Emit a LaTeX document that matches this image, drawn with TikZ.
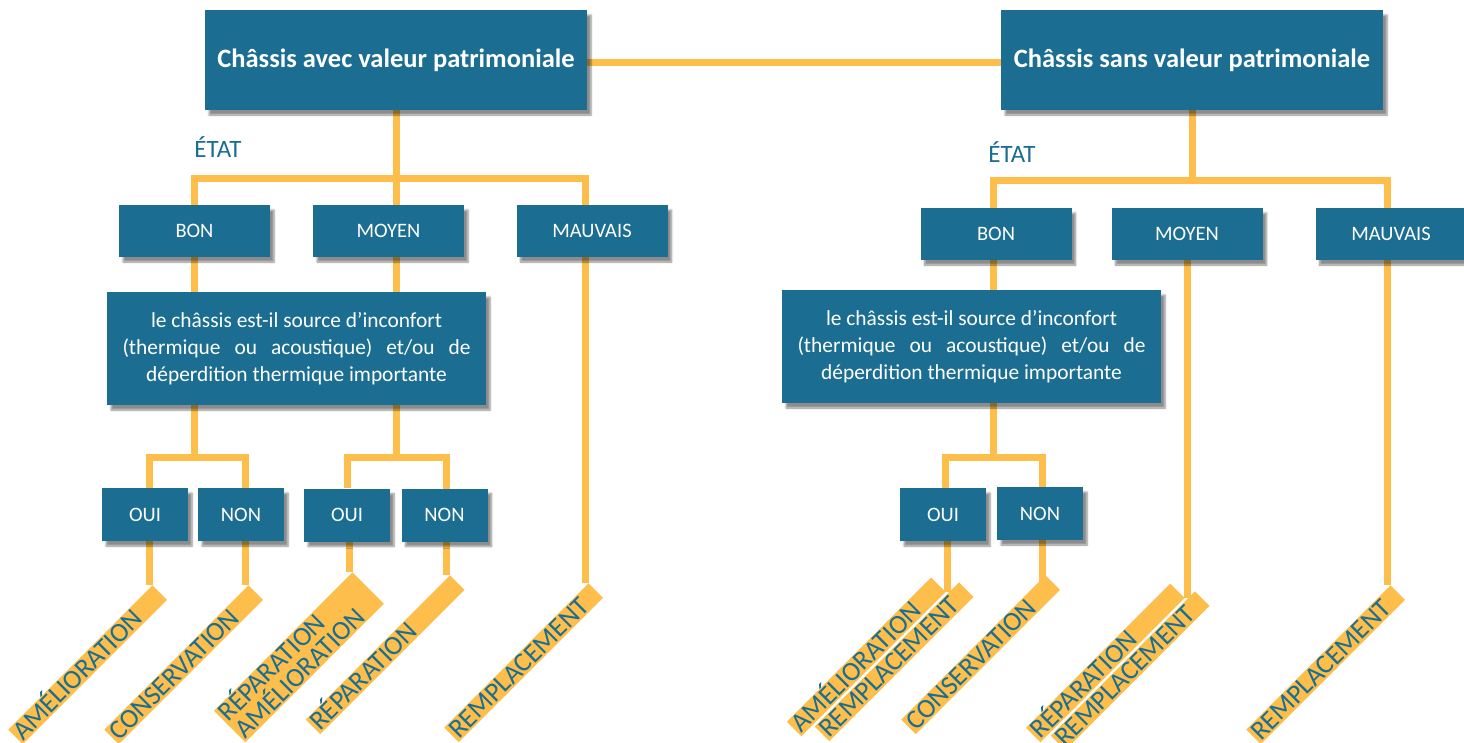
\documentclass[tikz,border=0pt]{standalone}
\usepackage{fontspec}
\setmainfont{Carlito}
\usetikzlibrary{positioning,backgrounds,shadows.blur}
\definecolor{bleu}{RGB}{27,110,145}
\definecolor{jaune}{RGB}{253,190,75}
\tikzset{
  boite/.style={fill=bleu, text=white, inner sep=0pt, minimum width=151pt, minimum height=52pt,
    font=\fontsize{20.5}{24}\selectfont,
    blur shadow={shadow xshift=4pt, shadow yshift=-5pt, shadow blur steps=6, shadow opacity=45}},
  petite/.style={boite, minimum width=86pt, minimum height=53pt},
  titre/.style={boite, minimum width=382pt, minimum height=100pt, font=\bfseries\fontsize{26.5}{30}\selectfont},
  question/.style={boite, minimum width=379pt, minimum height=113pt, align=center, font=\fontsize{21.4}{27}\selectfont},
  etat/.style={text=bleu, font=\fontsize{25}{28}\selectfont},
  bande/.style={fill=jaune, text=bleu, rotate=45, anchor=north east, inner xsep=2pt, inner ysep=1.5pt,
    text width=200pt, align=left, text height=17.5pt, text depth=0pt,
    font=\fontsize{27}{24}\selectfont},
  lien/.style={draw=jaune, line width=7pt},
}
\newcommand{\inconfort}{le châssis est-il source d’inconfort\\
  \makebox[348pt][s]{(thermique ou acoustique) et/ou de}\\
  déperdition thermique importante}

\begin{document}
\begin{tikzpicture}[x=1pt, y=-1pt]
  \useasboundingbox (0,0) rectangle (1464,742);

  % avec valeur patrimoniale
  \node[titre] (titreA) at (396,60) {Châssis avec valeur patrimoniale};
  \node[etat] (etatA) at (218,147) {ÉTAT};
  \node[boite] (bonA) at (194.5,231) {BON};
  \node[boite] (moyenA) at (388.5,231) {MOYEN};
  \node[boite] (mauvaisA) at (592,231) {MAUVAIS};
  \node[question] (questA) at (296.5,348.5) {\inconfort};
  \node[petite] (ouiA1) at (145,514.5) {OUI};
  \node[petite] (nonA1) at (241,514.5) {NON};
  \node[petite] (ouiA2) at (347,515) {OUI};
  \node[petite] (nonA2) at (444.5,515) {NON};

  % sans valeur patrimoniale
  \node[titre] (titreB) at (1192,60) {Châssis sans valeur patrimoniale};
  \node[etat] (etatB) at (1012,152) {ÉTAT};
  \node[boite] (bonB) at (996,234) {BON};
  \node[boite] (moyenB) at (1187,234) {MOYEN};
  \node[boite] (mauvaisB) at (1391,234) {MAUVAIS};
  \node[question] (questB) at (971.5,346.5) {\inconfort};
  \node[petite] (ouiB) at (943,514.5) {OUI};
  \node[petite] (nonB) at (1040,513.5) {NON};

  \begin{scope}[on background layer]
    \draw[lien] ([yshift=-2pt]titreA.center) -- ([yshift=-2pt]titreB.center);
    % arbre de gauche
    \path (titreA.south) ++(0,68) coordinate (nA);
    \draw[lien] (titreA) -- (titreA |- questA.north);
    \draw[lien] (bonA) |- (nA) -| ([xshift=-7pt]mauvaisA.center) -- ++(0,352) coordinate (fA5);
    \draw[lien] (bonA) -- ++(0,226) coordinate (nA1);
    \draw[lien] (titreA |- questA) -- (titreA |- nA1) coordinate (nA2);
    \draw[lien] ([xshift=4pt]ouiA1.center) |- (nA1) -| ([xshift=4pt]nonA1.center);
    \draw[lien] (ouiA2) |- (nA2) -| ([xshift=2pt]nonA2.center);
    \draw[lien] ([xshift=4pt]ouiA1.center) -- ++(0,70.5) coordinate (fA1);
    \draw[lien] ([xshift=4pt]nonA1.center) -- ++(0,70.5) coordinate (fA2);
    \draw[lien] ([xshift=2pt]ouiA2.center) -- ++(0,57) coordinate (fA3);
    \draw[lien] ([xshift=2pt]nonA2.center) -- ++(0,60) coordinate (fA4);
    % arbre de droite
    \path (titreB.south) ++(0,70) coordinate (nB);
    \draw[lien] (titreB) -- (nB);
    \draw[lien] ([xshift=-3pt]bonB.center) |- (nB) -| ([xshift=-4pt]mauvaisB.center) -- ++(0,351) coordinate (fB4);
    \draw[lien] (moyenB) -- ++(0,364) coordinate (fB3);
    \draw[lien] ([xshift=-3pt]bonB.center) -- ++(0,223) coordinate (nB1);
    \draw[lien] ([xshift=2pt]ouiB.center) |- (nB1) -| ([xshift=2pt]nonB.center);
    \draw[lien] ([xshift=4pt]ouiB.center) -- ++(0,77.5) coordinate (fB1);
    \draw[lien] ([xshift=2pt]nonB.center) -- ++(0,71.5) coordinate (fB2);
  \end{scope}

  % bandes de resultat
  \node[bande] (ameA) at ([xshift=3.5pt]fA1) {AMÉLIORATION};
  \node[bande] (consA) at ([xshift=3.5pt]fA2) {CONSERVATION};
  \node[bande, text width=192pt, text depth=24pt] (repameA) at ([xshift=3.5pt]fA3) {RÉPARATION\\AMÉLIORATION};
  \node[bande] (repA) at ([xshift=3.5pt]fA4) {RÉPARATION};
  \node[bande] (rempA) at ([xshift=3.5pt]fA5) {REMPLACEMENT};

  \node[bande, anchor=south east] (ameB) at ([xshift=-1pt]fB1) {AMÉLIORATION};
  \node[bande] (rempB1) at ([shift={(13,-10)}]ameB.south east) {REMPLACEMENT};
  \node[bande] (consB) at ([shift={(3.5,-10)}]fB2) {CONSERVATION};
  \node[bande, anchor=south east] (repB) at ([xshift=-2pt]fB3) {RÉPARATION};
  \node[bande] (rempB2) at ([shift={(10,-7)}]repB.south east) {REMPLACEMENT};
  \node[bande] (rempB3) at ([xshift=3.5pt]fB4) {REMPLACEMENT};
\end{tikzpicture}
\end{document}
